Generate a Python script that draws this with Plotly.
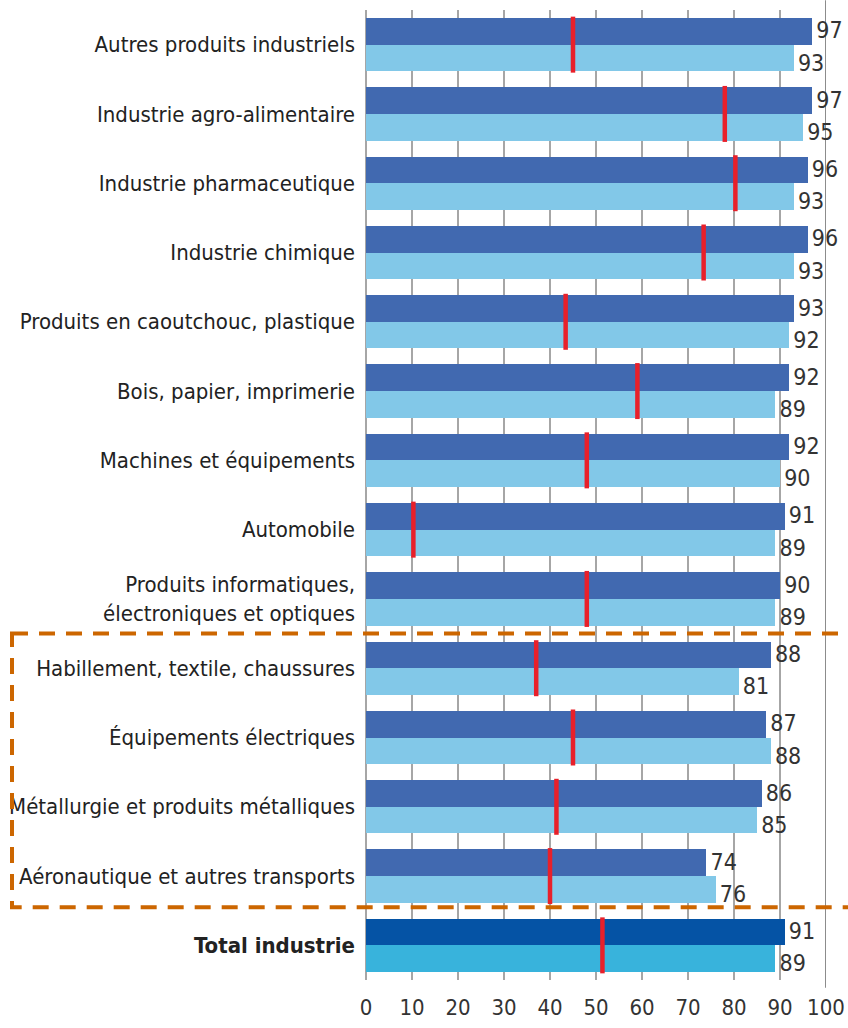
import plotly.graph_objects as go

# data, top to bottom
categories = [
    "Autres produits industriels",
    "Industrie agro-alimentaire",
    "Industrie pharmaceutique",
    "Industrie chimique",
    "Produits en caoutchouc, plastique",
    "Bois, papier, imprimerie",
    "Machines et équipements",
    "Automobile",
    "Produits informatiques,<br>électroniques et optiques",
    "Habillement, textile, chaussures",
    "Équipements électriques",
    "Métallurgie et produits métalliques",
    "Aéronautique et autres transports",
    "<b>Total industrie</b>",
]
serie_haute = [97, 97, 96, 96, 93, 92, 92, 91, 90, 88, 87, 86, 74, 91]
serie_basse = [93, 95, 93, 93, 92, 89, 90, 89, 89, 81, 88, 85, 76, 89]
repere = [45, 78, 80.3, 73.4, 43.4, 59, 48, 10.3, 48, 37, 45, 41.4, 40, 51.4]
x_ticks = [0, 10, 20, 30, 40, 50, 60, 70, 80, 90, 100]

FONT = "Liberation Sans Narrow, DejaVu Sans Condensed, Arial Narrow, sans-serif"
n = len(categories)
rows = list(range(n))

dark = ["#4169B0"] * (n - 1) + ["#0553A5"]
light = ["#82C8E8"] * (n - 1) + ["#38B3DC"]
half = 0.385

L, R = 366, 22
plot_w = 848 - L - R

fig = go.Figure()
fig.add_trace(go.Bar(
    x=serie_haute, y=rows, orientation="h",
    width=half, offset=-half, marker=dict(color=dark, line=dict(width=0)),
    showlegend=False, hoverinfo="x",
))
fig.add_trace(go.Bar(
    x=serie_basse, y=rows, orientation="h",
    width=half, offset=0, marker=dict(color=light, line=dict(width=0)),
    showlegend=False, hoverinfo="x",
))

# red markers spanning both bars
fig.add_trace(go.Scatter(
    x=repere, y=rows, mode="markers",
    marker=dict(symbol="line-ns", size=40, line=dict(color="#E8202A", width=4.5)),
    showlegend=False, hoverinfo="x",
))

# value labels (thin space = small gap after the bar end)
fig.add_trace(go.Scatter(
    x=serie_haute, y=[r - half / 2 + 0.02 for r in rows], mode="text",
    text=["\u2009" + str(v) for v in serie_haute], textposition="middle right",
    textfont=dict(family=FONT, size=23, color="#333333"),
    showlegend=False, hoverinfo="skip", cliponaxis=False,
))
fig.add_trace(go.Scatter(
    x=serie_basse, y=[r + half / 2 + 0.1 for r in rows], mode="text",
    text=["\u2009" + str(v) for v in serie_basse], textposition="middle right",
    textfont=dict(family=FONT, size=23, color="#333333"),
    showlegend=False, hoverinfo="skip", cliponaxis=False,
))

# 100 line, darker
fig.add_shape(type="line", xref="x", yref="paper", x0=100, x1=100, y0=-0.008, y1=1.01,
              line=dict(color="#8c8c8c", width=2), layer="below")

# dashed frame around the last four sectors
fig.add_shape(type="rect", xref="paper", yref="y",
              x0=(12 - L) / plot_w, x1=(852 - L) / plot_w, y0=8.5, y1=12.45,
              line=dict(color="#CC6600", width=4, dash="16px,11px"))

fig.update_layout(
    width=848, height=1028,
    margin=dict(l=L, r=R, t=10, b=48, autoexpand=False),
    plot_bgcolor="white", paper_bgcolor="white",
    bargap=0,
    xaxis=dict(
        range=[0, 100], tickvals=x_ticks, showgrid=True, automargin=False,
        gridcolor="#a6a6a6", gridwidth=1.5, zeroline=True,
        zerolinecolor="#a6a6a6", zerolinewidth=1.5,
        ticklabelstandoff=12,
        tickfont=dict(family=FONT, size=22, color="#333333"),
        fixedrange=True,
    ),
    yaxis=dict(
        range=[n - 0.5, -0.5], tickvals=rows, ticktext=categories,
        showgrid=False, zeroline=False, ticks="", ticklabelstandoff=10,
        automargin=False,
        tickfont=dict(family=FONT, size=22, color="#222222"),
    ),
)

# the page body has a default 8px margin; drop it so the figure sits at 0,0
fig.write_html(
    "out.html",
    config={"displayModeBar": False},
    post_script="document.body.style.margin='0';document.body.style.overflow='hidden';",
)
